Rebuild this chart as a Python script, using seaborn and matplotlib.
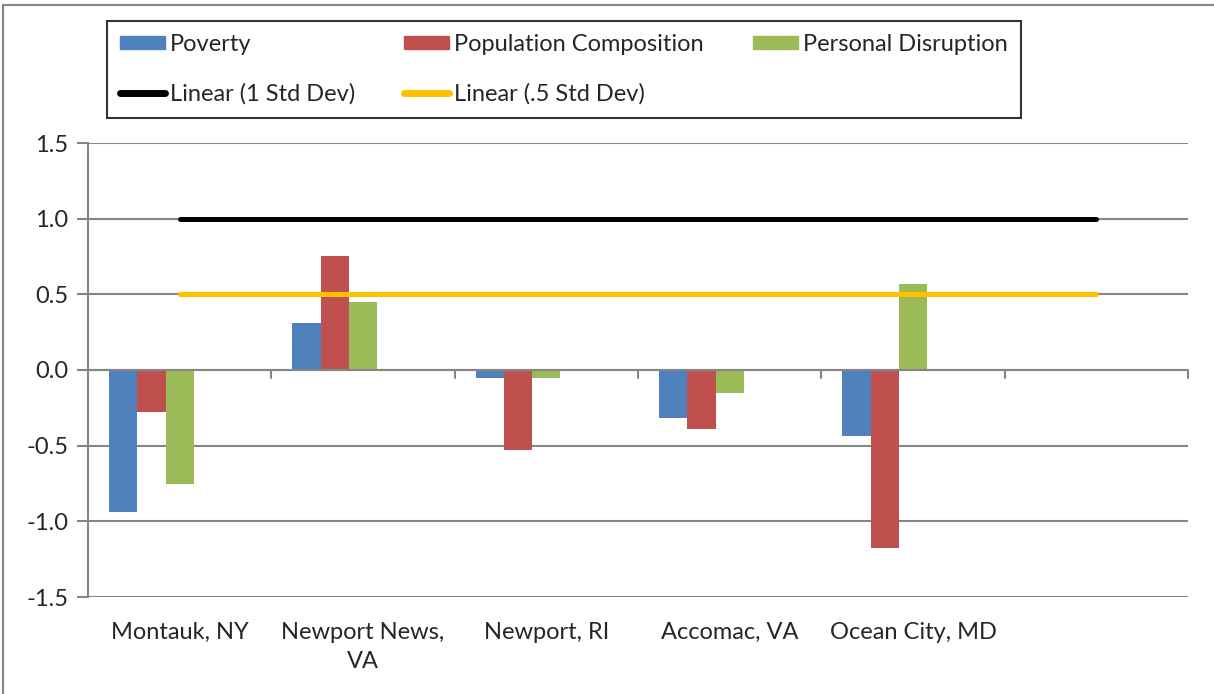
import numpy as np
import pandas as pd
import seaborn as sns
import matplotlib.pyplot as plt
from matplotlib.patches import Patch, Rectangle
from matplotlib.lines import Line2D

# values
places = ['Montauk, NY', 'Newport News,\nVA', 'Newport, RI', 'Accomac, VA', 'Ocean City, MD', '']
poverty = [-0.94, 0.31, -0.05, -0.315, -0.435, np.nan]
population = [-0.28, 0.755, -0.53, -0.39, -1.175, np.nan]
disruption = [-0.75, 0.45, -0.05, -0.15, 0.565, np.nan]
std1 = [1.0, 1.0, 1.0, 1.0, 1.0, 1.0]
std05 = [0.5, 0.5, 0.5, 0.5, 0.5, 0.5]

series = ['Poverty', 'Population Composition', 'Personal Disruption', '1 Std Dev', '.5 Std Dev']
colors = ['#4F81BD', '#C0504D', '#9BBB59', '#000000', '#FFC000']

rows = []
for name, vals in zip(series, [poverty, population, disruption, std1, std05]):
    for p, v in zip(places, vals):
        rows.append({'place': p, 'series': name, 'value': v})
df = pd.DataFrame(rows)

sns.set_style('white')
plt.rcParams['font.family'] = ['Lato', 'DejaVu Sans']

fig = plt.figure(figsize=(12.14, 6.94), dpi=100)
ax = fig.add_axes([88 / 1214, 97 / 694, 1100 / 1214, 454 / 694])

sns.barplot(data=df, x='place', y='value', hue='series', order=places,
            hue_order=series, palette=colors, saturation=1, width=0.77,
            linewidth=0, errorbar=None, ax=ax, legend=False)

# the std dev series are only there for the trendlines: hide their bars
for container, name in zip(ax.containers, series):
    if 'Std Dev' in name:
        for bar in container:
            bar.set_visible(False)

xs = np.arange(len(places))
ax.plot(xs, std1, color='black', lw=3.6, solid_capstyle='round', zorder=4)
ax.plot(xs, std05, color='#FFC000', lw=3.6, solid_capstyle='round', zorder=4)

ax.set_xlim(-0.5, len(places) - 0.5)
ax.set_ylim(-1.5, 1.5)
ax.set_yticks(np.arange(-1.5, 1.51, 0.5))
ax.set_yticklabels([f'{t:.1f}' for t in np.arange(-1.5, 1.51, 0.5)])
ax.yaxis.grid(True, color='#868686', lw=1.5)
ax.set_axisbelow(True)
ax.set_xlabel('')
ax.set_ylabel('')

for s in ['top', 'right', 'bottom']:
    ax.spines[s].set_visible(False)
ax.spines['left'].set_color('#868686')
ax.spines['left'].set_linewidth(1.5)

# zero axis with category ticks
ax.axhline(0, color='#868686', lw=1.5, zorder=1)
for b in np.arange(0.5, len(places), 1.0):
    ax.plot([b, b], [0, -0.05], color='#868686', lw=1.5, clip_on=False, zorder=1)

ax.tick_params(axis='y', length=8, width=1.5, color='#868686', labelsize=17, pad=6, left=True)
ax.tick_params(axis='x', length=0, labelsize=17, pad=18)
for lbl in ax.get_xticklabels():
    lbl.set_linespacing(1.45)

handles = [
    Patch(color=colors[0], label='Poverty'),
    Line2D([], [], color='black', lw=5, solid_capstyle='round', label='Linear (1 Std Dev)'),
    Patch(color=colors[1], label='Population Composition'),
    Line2D([], [], color='#FFC000', lw=5, solid_capstyle='round', label='Linear (.5 Std Dev)'),
    Patch(color=colors[2], label='Personal Disruption'),
]
leg = fig.legend(handles=handles, ncol=3, loc='upper left',
                 bbox_to_anchor=(107 / 1214, 1 - 21 / 694), fontsize=17,
                 frameon=True, fancybox=False, handlelength=1.9, handleheight=0.5,
                 handletextpad=0.2, columnspacing=2.1, labelspacing=1.2,
                 borderpad=0.55, borderaxespad=0)
leg.get_frame().set_edgecolor('black')
leg.get_frame().set_linewidth(1.5)

# outer chart border
fig.patches.append(Rectangle((3 / 1214, -0.05), 1.2, 1 - 5 / 694 + 0.05,
                             transform=fig.transFigure, fill=False,
                             edgecolor='#868686', lw=1.5))

fig.savefig('out.png', dpi=100)
